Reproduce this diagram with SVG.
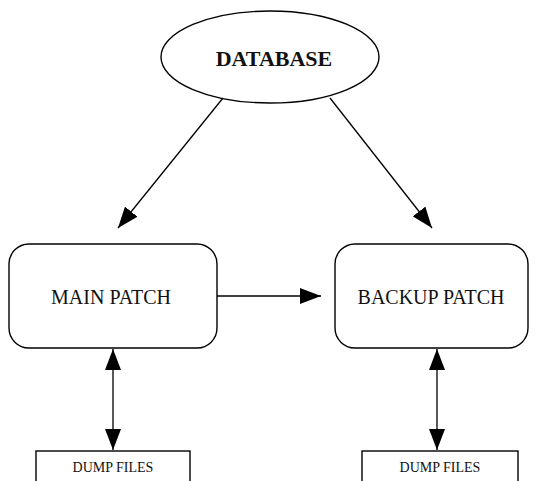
<svg xmlns="http://www.w3.org/2000/svg" width="539" height="481" viewBox="0 0 539 481">
  <style>
    .shape { fill: #fff; stroke: #000; stroke-width: 1.4; }
    .edge { fill: none; stroke: #000; stroke-width: 1.3; }
    .label { font-family: "Liberation Serif", "Times New Roman", serif; fill: #111; text-anchor: middle; }
    .big { font-size: 20px; }
    .bold { font-size: 22px; font-weight: bold; }
    .small { font-size: 14px; }
  </style>
  <defs>
    <marker id="head" markerUnits="userSpaceOnUse" viewBox="0 0 21 16" refX="21" refY="8" markerWidth="21" markerHeight="16" orient="auto-start-reverse">
      <path d="M0,0 L21,8 L0,16 Z" fill="#000"/>
    </marker>
  </defs>
  <rect width="539" height="481" fill="#fff"/>

  <g id="database">
    <ellipse class="shape" cx="270" cy="57" rx="109" ry="46"/>
    <text class="label bold" x="274" y="66">DATABASE</text>
  </g>

  <g id="main-patch">
    <rect class="shape" x="9" y="244" width="208" height="104" rx="20" ry="20"/>
    <text class="label big" x="111" y="304">MAIN PATCH</text>
  </g>

  <g id="backup-patch">
    <rect class="shape" x="335" y="244" width="193" height="104" rx="20" ry="20"/>
    <text class="label big" x="431" y="304">BACKUP PATCH</text>
  </g>

  <g id="dump-main">
    <rect class="shape" x="36" y="451" width="154" height="40"/>
    <text class="label small" x="113" y="472">DUMP FILES</text>
  </g>

  <g id="dump-backup">
    <rect class="shape" x="362" y="451" width="156" height="40"/>
    <text class="label small" x="440" y="472">DUMP FILES</text>
  </g>

  <g id="connectors">
    <line class="edge" x1="223" y1="98" x2="118" y2="228" marker-end="url(#head)"/>
    <line class="edge" x1="330" y1="98" x2="432" y2="228" marker-end="url(#head)"/>
    <line class="edge" x1="217" y1="296" x2="321" y2="296" marker-end="url(#head)"/>
    <line class="edge" x1="113" y1="349" x2="113" y2="450" marker-start="url(#head)" marker-end="url(#head)"/>
    <line class="edge" x1="437" y1="349" x2="437" y2="450" marker-start="url(#head)" marker-end="url(#head)"/>
  </g>
</svg>
